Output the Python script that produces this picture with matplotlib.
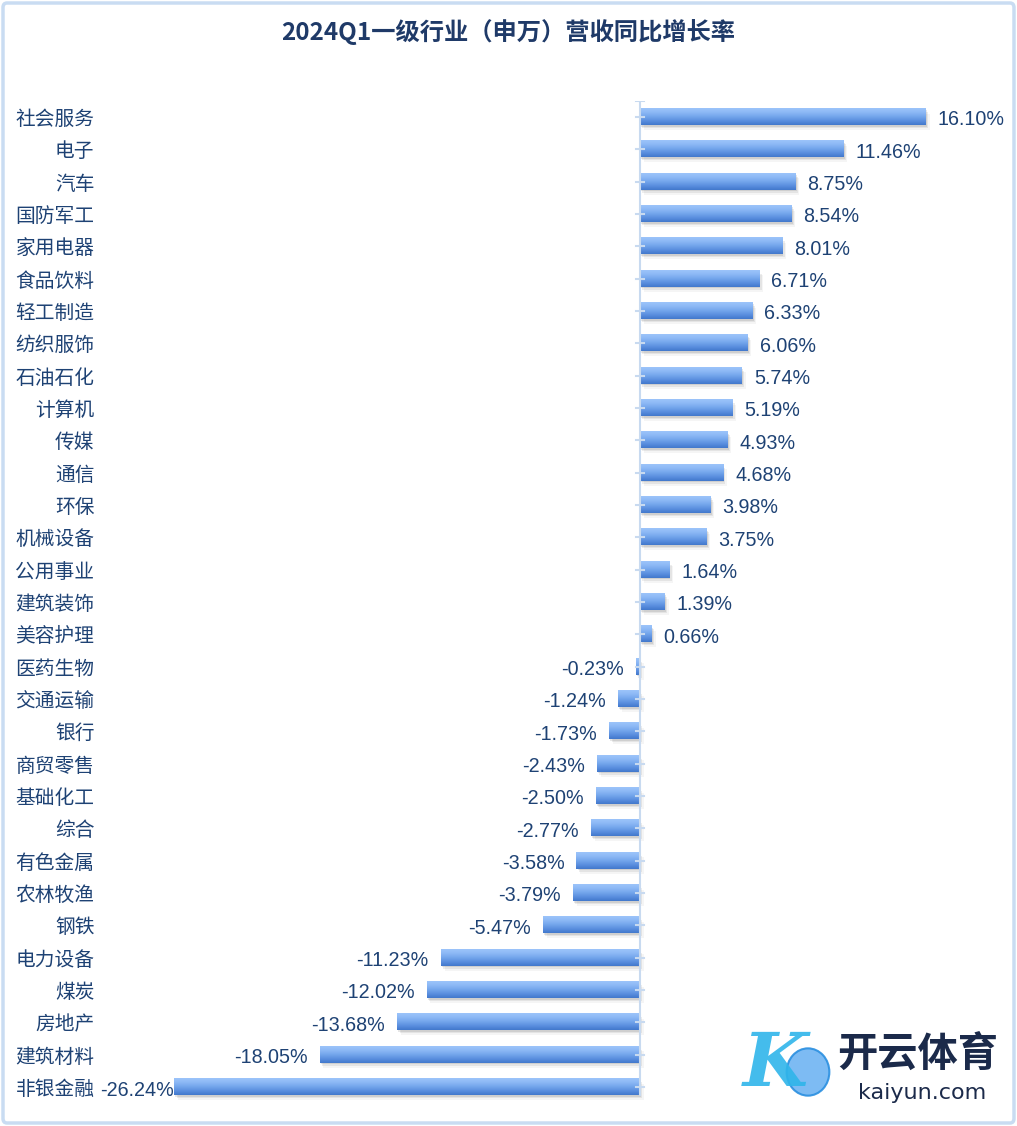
import matplotlib
matplotlib.use("Agg")
import matplotlib.pyplot as plt
import numpy as np
from matplotlib.colors import LinearSegmentedColormap
from matplotlib.patches import Rectangle, FancyBboxPatch, Circle

plt.rcParams['font.family'] = ['Noto Sans CJK SC', 'DejaVu Sans']

categories = ["社会服务", "电子", "汽车", "国防军工", "家用电器", "食品饮料", "轻工制造",
              "纺织服饰", "石油石化", "计算机", "传媒", "通信", "环保", "机械设备",
              "公用事业", "建筑装饰", "美容护理", "医药生物", "交通运输", "银行",
              "商贸零售", "基础化工", "综合", "有色金属", "农林牧渔", "钢铁",
              "电力设备", "煤炭", "房地产", "建筑材料", "非银金融"]
values = [16.10, 11.46, 8.75, 8.54, 8.01, 6.71, 6.33, 6.06, 5.74, 5.19, 4.93, 4.68,
          3.98, 3.75, 1.64, 1.39, 0.66, -0.23, -1.24, -1.73, -2.43, -2.50, -2.77,
          -3.58, -3.79, -5.47, -11.23, -12.02, -13.68, -18.05, -26.24]
title = "2024Q1一级行业（申万）营收同比增长率"

W, H = 1017, 1126
fig = plt.figure(figsize=(W / 100, H / 100), dpi=100)
navy = "#1e4274"

# figure border
fig.patches.append(FancyBboxPatch((3 / W, 3 / H), 1 - 6 / W, 1 - 6 / H,
                                  boxstyle="round,pad=0,rounding_size=0.004",
                                  transform=fig.transFigure, fill=False,
                                  edgecolor="#c9dcf2", linewidth=2.5))

ax_left, ax_right = 100, 1010
ax_top, ax_bot = 100.8, 1103.2
ax = fig.add_axes([ax_left / W, 1 - ax_bot / H, (ax_right - ax_left) / W, (ax_bot - ax_top) / H])

pxper = 17.75
xmin = (ax_left - 640) / pxper
xmax = (ax_right - 640) / pxper
n = len(categories)
ys = np.arange(n)
bh = 0.5

cmap = LinearSegmentedColormap.from_list("g", ["#9cc4fa", "#8cb8f5", "#74a6ec", "#5a8fdf", "#4278cc"])
grad = cmap(np.linspace(0, 1, 64))[:, :3].reshape(64, 1, 3)

dx = 3 / pxper
dy = 3 / 32.33
for i, v in enumerate(values):
    x0, x1 = min(0, v), max(0, v)
    # shadow
    for k, a in [(1.6, 0.06), (1.0, 0.10), (0.5, 0.14)]:
        ax.add_patch(Rectangle((x0 + dx * k * 0.8, i - bh / 2 + dy * k),
                               x1 - x0, bh, facecolor="#555555", alpha=a,
                               edgecolor="none", zorder=1))
    ax.imshow(grad, extent=(x0, x1, i + bh / 2, i - bh / 2), origin="upper",
              aspect="auto", interpolation="bilinear", zorder=2)

# zero axis with ticks
ax.axvline(0, color="#c8daf0", linewidth=1.5, zorder=3, ymin=0.008, ymax=1)
tick_half = 4 / pxper
for i in list(ys) + [-0.5]:
    ax.plot([-tick_half, tick_half], [i, i], color="#c8daf0", linewidth=1.5, zorder=3)

# value labels
num_font = ["Liberation Sans", "Noto Sans CJK SC"]
gap = 12 / pxper
for i, v in enumerate(values):
    s = f"{v:.2f}%"
    kw = dict(va="center_baseline", fontsize=14.2, color=navy, family=num_font, zorder=4)
    if v >= 0:
        ax.text(v + gap, i + 0.03, s, ha="left", **kw)
    else:
        pos = v - gap
        est_w = len(s) * 0.56 * 19.5 / pxper
        if pos - est_w < xmin:
            ax.text(xmin, i + 0.03, s, ha="left", **kw)
        else:
            ax.text(pos, i + 0.03, s, ha="right", **kw)

ax.set_xlim(xmin, xmax)
ax.set_ylim(n - 0.5, -0.5)
ax.set_yticks(ys)
ax.set_yticklabels(categories, fontsize=14.2, color=navy)
ax.tick_params(axis="y", length=0, pad=4)
ax.set_xticks([])
for sp in ax.spines.values():
    sp.set_visible(False)
ax.patch.set_alpha(0)

fig.text(508 / W, 1 - 32 / H, title, ha="center", va="center", fontsize=17.5,
         fontweight="bold", color="#1f3a68")

# watermark
fig.text(918 / W, 1 - 1055 / H, "开云体育", ha="center", va="center", fontsize=29,
         color="#1b2a4a", fontweight="bold")
fig.text(922 / W, 1 - 1093 / H, "kaiyun.com", ha="center", va="center", fontsize=16,
         color="#1b2a4a", family=["DejaVu Sans"])
fig.text(775 / W, 1 - 1065 / H, "K", ha="center", va="center", fontsize=54,
         color="#2fb5ea", style="italic", fontweight="bold", family=["DejaVu Serif"], alpha=0.9)
fig.patches.append(Circle((808 / W, 1 - 1072 / H), 0.021, transform=fig.transFigure,
                          facecolor="#6fb4f2", edgecolor="#2a8fe0", linewidth=1.5, alpha=0.9))

fig.savefig("out.png", dpi=100)
